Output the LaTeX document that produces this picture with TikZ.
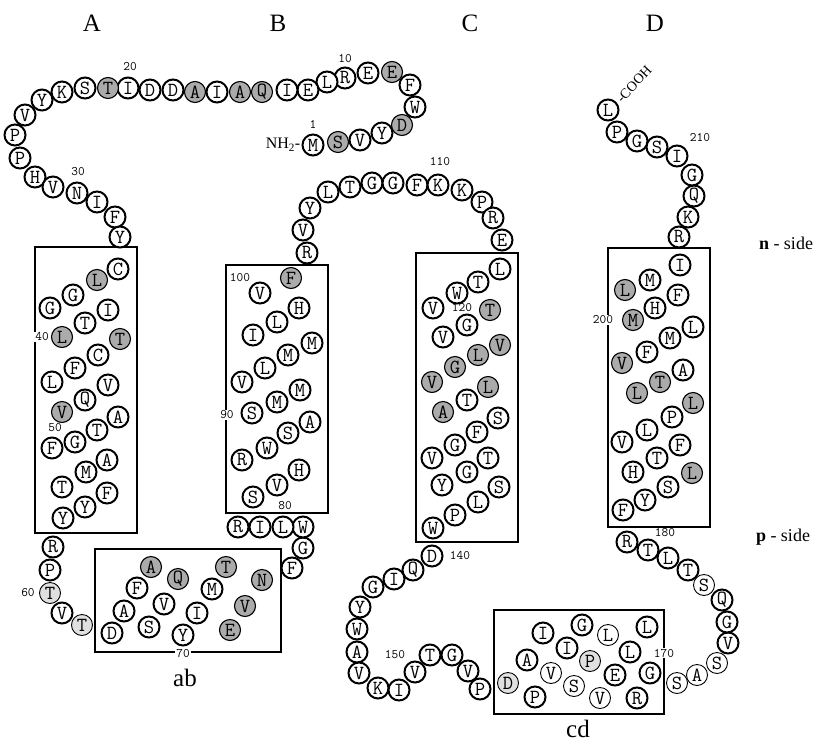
\documentclass[tikz,border=0pt]{standalone}
\usepackage{fontspec}
\setmainfont{Liberation Serif}
\usetikzlibrary{positioning}

\tikzset{
  res/.style={circle, draw, line width=2pt, fill=white, inner sep=0pt,
              minimum size=21pt, font=\fontsize{20}{20}\ttfamily},
  shd/.style={res, line width=1.1pt, fill=black!33},  % shaded residue
  lt/.style={res, line width=0.9pt},                  % thin residue
  lsh/.style={res, line width=0.9pt, fill=black!12},  % thin, light shade
  num/.style={font=\fontsize{13}{13}\ttfamily, inner sep=1pt},
  helix/.style={draw, line width=1.5pt},
  title/.style={font=\fontsize{25}{25}\selectfont},
  sidelabel/.style={font=\fontsize{18}{18}\selectfont}
}

\begin{document}
\begin{tikzpicture}[x=1pt,y=-1pt]
  \useasboundingbox (0,0) rectangle (819,742);

  % helix labels
  \node[title] (hA) at (92,23) {A};
  \node[title] (hB) at (278,23) {B};
  \node[title] (hC) at (470,23) {C};
  \node[title] (hD) at (655,23) {D};

  % membrane boxes
  \draw[helix] (35,247) rectangle (137,533);   % A
  \draw[helix] (226,265) rectangle (328,513);  % B
  \draw[helix] (416,253) rectangle (518,542);  % C
  \draw[helix] (608,248) rectangle (710,527);  % D
  \draw[helix] (95,549) rectangle (281,652);   % ab
  \draw[helix] (494,610) rectangle (664,714);  % cd

  \node[num] (n120) at (462,308) {120};

  % N-terminus to helix A
  \foreach \n/\x/\y/\a/\s in {1/313/145/M/res, 2/338/142/S/shd, 3/360/140/V/res,
      4/382/133/Y/res, 5/402/125/D/shd, 6/415/107/W/res, 7/410/85/F/res,
      8/392/72/E/shd, 9/368/73/E/res, 10/345/78/R/res, 11/327/82/L/res,
      12/308/90/E/res, 13/287/90/I/res, 14/262/92/Q/shd, 15/240/92/A/shd,
      16/217/92/I/res, 17/195/92/A/shd, 18/173/90/D/res, 19/150/90/D/res,
      20/128/88/I/res, 21/108/88/T/shd, 22/85/88/S/res, 23/62/92/K/res,
      24/42/100/Y/res, 25/25/115/V/res, 26/15/135/P/res, 27/20/158/P/res,
      28/35/177/H/res, 29/53/187/V/res, 30/77/193/N/res, 31/97/202/I/res,
      32/115/217/F/res, 33/120/237/Y/res}
    \node[\s] (r\n) at (\x,\y) {\a};

  % helix A
  \foreach \n/\x/\y/\a/\s in {34/118/269/C/res, 35/97/280/L/shd, 36/73/295/G/res,
      37/50/308/G/res, 38/108/310/I/res, 39/85/323/T/res, 40/62/337/L/shd,
      41/120/339/T/shd, 42/98/355/C/res, 43/75/368/F/res, 44/52/382/L/res,
      45/108/385/V/res, 46/85/400/Q/res, 47/62/412/V/shd, 48/118/417/A/res,
      49/97/430/T/res, 50/75/442/G/res, 51/52/448/F/res, 52/107/460/A/res,
      53/86/472/M/res, 54/62/487/T/res, 55/107/493/F/res, 56/85/507/Y/res,
      57/63/518/Y/res}
    \node[\s] (r\n) at (\x,\y) {\a};

  % loop ab
  \foreach \n/\x/\y/\a/\s in {58/53/547/R/res, 59/50/570/P/res, 60/50/593/T/lsh,
      61/62/613/V/res, 62/82/625/T/lsh, 63/112/633/D/res, 64/124/611/A/res,
      65/137/588/F/res, 66/151/567/A/shd, 67/149/627/S/res, 68/164/604/V/res,
      69/178/579/Q/shd, 70/183/635/Y/res, 71/197/613/I/res, 72/212/589/M/res,
      73/226/567/T/shd, 74/230/630/E/shd, 75/245/606/V/shd, 76/262/580/N/shd,
      77/292/568/F/res, 78/303/548/G/res, 79/303/527/W/res, 80/283/527/L/res,
      81/260/527/I/res, 82/238/527/R/res}
    \node[\s] (r\n) at (\x,\y) {\a};

  % helix B
  \foreach \n/\x/\y/\a/\s in {83/253/497/S/res, 84/277/485/V/res, 85/299/470/H/res,
      86/242/460/R/res, 87/267/448/W/res, 88/288/433/S/res, 89/310/422/A/res,
      90/252/413/S/res, 91/277/402/M/res, 92/300/390/M/res, 93/242/382/V/res,
      94/265/368/L/res, 95/288/355/M/res, 96/312/343/M/res, 97/253/335/I/res,
      98/277/322/L/res, 99/299/308/H/res, 100/260/293/V/res, 101/291/278/F/shd}
    \node[\s] (r\n) at (\x,\y) {\a};

  % loop bc
  \foreach \n/\x/\y/\a/\s in {102/307/253/R/res, 103/303/230/V/res, 104/310/208/Y/res,
      105/328/192/L/res, 106/350/187/T/res, 107/372/183/G/res, 108/393/183/G/res,
      109/417/185/F/res, 110/438/185/K/res, 111/462/190/K/res, 112/482/202/P/res,
      113/493/218/R/res, 114/502/240/E/res}
    \node[\s] (r\n) at (\x,\y) {\a};

  % helix C
  \foreach \n/\x/\y/\a/\s in {115/500/269/L/res, 116/478/282/T/res, 117/457/293/W/res,
      118/433/308/V/res, 119/490/310/T/shd, 120/467/325/G/res, 121/443/337/V/res,
      122/500/345/V/shd, 123/478/355/L/shd, 124/455/367/G/shd, 125/432/382/V/shd,
      126/488/387/L/shd, 127/467/400/T/res, 128/443/412/A/shd, 129/498/418/S/res,
      130/477/432/F/res, 131/455/445/G/res, 132/432/458/V/res, 133/488/458/T/res,
      134/467/472/G/res, 135/442/485/Y/res, 136/499/487/S/res, 137/478/502/L/res,
      138/455/515/P/res, 139/433/528/W/res}
    \node[\s] (r\n) at (\x,\y) {\a};

  % loop cd
  \foreach \n/\x/\y/\a/\s in {140/432/556/D/res, 141/413/570/Q/res, 142/394/579/I/res,
      143/373/587/G/res, 144/360/607/Y/res, 145/357/629/W/res, 146/357/652/A/res,
      147/359/673/V/res, 148/378/688/K/res, 149/399/690/I/res, 150/415/672/V/res,
      151/430/655/T/res, 152/452/655/G/res, 153/468/671/V/res, 154/480/689/P/res,
      155/508/683/D/lsh, 156/535/697/P/res, 157/527/660/A/res, 158/551/673/V/lt,
      159/543/633/I/res, 160/567/648/I/res, 161/574/686/S/lt, 162/590/661/P/lsh,
      163/582/625/G/res, 164/608/635/L/lt, 165/600/698/V/lt, 166/615/675/E/res,
      167/630/652/L/res, 168/647/627/L/res, 169/650/673/G/res, 170/637/698/R/res,
      171/677/683/S/lt, 172/697/675/A/lt, 173/717/663/S/lt, 174/728/643/V/res,
      175/727/622/G/res, 176/722/600/Q/res, 177/704/585/S/lt, 178/688/570/T/res,
      179/668/558/L/res, 180/648/550/T/res, 181/627/542/R/res}
    \node[\s] (r\n) at (\x,\y) {\a};

  % helix D and C-terminus
  \foreach \n/\x/\y/\a/\s in {182/623/510/F/res, 183/645/500/Y/res, 184/668/487/S/res,
      185/692/473/L/shd, 186/633/472/H/res, 187/657/458/T/res, 188/680/445/F/res,
      189/622/442/V/res, 190/647/430/L/res, 191/672/417/P/res, 192/693/403/L/shd,
      193/637/393/L/shd, 194/660/382/T/shd, 195/683/370/A/res, 196/622/363/V/shd,
      197/647/352/F/res, 198/670/338/M/res, 199/693/327/L/res, 200/633/320/M/shd,
      201/655/308/H/res, 202/625/290/L/shd, 203/678/295/F/res, 204/650/280/M/res,
      205/680/265/I/res, 206/679/237/R/res, 207/688/217/K/res, 208/694/196/Q/res,
      209/692/175/G/res, 210/677/156/I/res, 211/657/147/S/res, 212/637/141/G/res,
      213/617/132/P/res, 214/608/110/L/res}
    \node[\s] (r\n) at (\x,\y) {\a};

  % termini
  \node[anchor=east, inner sep=1pt, font=\fontsize{16}{16}\selectfont] (nterm) at (r1.west) {NH\textsubscript{2}-};
  \node[anchor=west, rotate=47, inner sep=0pt, font=\fontsize{14}{14}\selectfont] (cterm) at ([shift={(2,-2)}]r214.40) {-COOH};

  % residue numbers
  \node[num] (n1) at (313,124) {1};
  \node[num] (n10) at (345,59) {10};
  \node[num] (n20) at (130,67) {20};
  \node[num] (n30) at (78,172) {30};
  \node[num, fill=white] (n40) at (42,337) {40};
  \node[num] (n50) at (55,428) {50};
  \node[num] (n60) at (28,593) {60};
  \node[num, fill=white] (n70) at (183,653) {70};
  \node[num, fill=white] (n80) at (285,506) {80};
  \node[num, fill=white] (n90) at (227,415) {90};
  \node[num] (n100) at (240,278) {100};
  \node[num] (n110) at (440,162) {110};
  \node[num] (n140) at (460,556) {140};
  \node[num] (n150) at (395,655) {150};
  \node[num, fill=white] (n170) at (664,653) {170};
  \node[num, fill=white] (n180) at (665,533) {180};
  \node[num, fill=white] (n200) at (603,320) {200};
  \node[num] (n210) at (700,138) {210};

  % loop and side labels
  \node[title] (lab) at (185,678) {ab};
  \node[title] (lcd) at (578,729) {cd};
  \node[sidelabel] (nside) at (786,243) {\textbf{n} - side};
  \node[sidelabel] (pside) at (783,537) {\textbf{p} - side};
\end{tikzpicture}
\end{document}
